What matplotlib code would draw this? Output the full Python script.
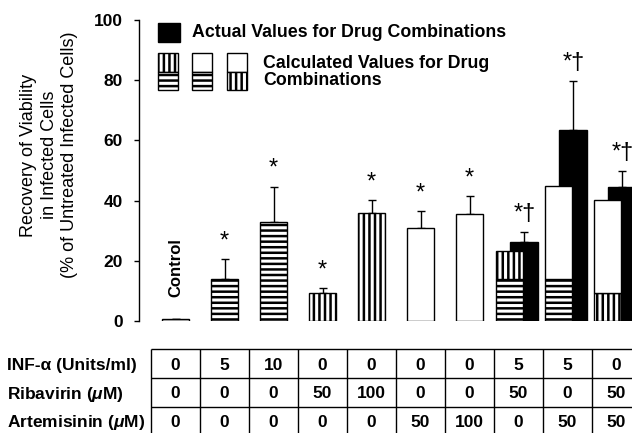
import matplotlib
matplotlib.use('Agg')
import matplotlib.pyplot as plt
from matplotlib.patches import Rectangle
import matplotlib.transforms as mtransforms

# ---------------- data ----------------
single_drug = ['Control', 'INF', 'INF', 'RIB', 'RIB', 'ART', 'ART']
single_values = [0.5, 13.9, 33.0, 9.4, 35.8, 30.8, 35.5]
single_errors = [0.3, 6.6, 11.6, 1.6, 4.4, 5.7, 6.0]
single_marks = ['', '*', '*', '*', '*', '*', '*']

combo_bottom_drug = ['INF', 'INF', 'RIB']
combo_bottom = [13.9, 14.0, 9.4]
combo_top_drug = ['RIB', 'ART', 'ART']
combo_top = [9.4, 30.8, 30.8]
actual_values = [26.2, 63.5, 44.6]
actual_errors = [3.5, 16.2, 5.3]
combo_marks = ['*\u2020', '*\u2020', '*\u2020']

row_labels = ['INF-\u03b1 (Units/ml)', 'Ribavirin ($\\mu$M)', 'Artemisinin ($\\mu$M)']
inf_doses = [0, 5, 10, 0, 0, 0, 0, 5, 5, 0]
rib_doses = [0, 0, 0, 50, 100, 0, 0, 50, 0, 50]
art_doses = [0, 0, 0, 0, 0, 50, 100, 0, 50, 50]
yticks = [0, 20, 40, 60, 80, 100]

legend_actual = 'Actual Values for Drug Combinations'
legend_calc = ['Calculated Values for Drug', 'Combinations']
ylabel = 'Recovery of Viability\nin Infected Cells\n(% of Untreated Infected Cells)'

# ---------------- style ----------------
plt.rcParams['font.family'] = ['Liberation Sans', 'DejaVu Sans']
plt.rcParams['hatch.linewidth'] = 1.8
plt.rcParams['hatch.color'] = 'black'
plt.rcParams['mathtext.fontset'] = 'custom'
plt.rcParams['mathtext.rm'] = 'Liberation Sans:bold'
plt.rcParams['mathtext.it'] = 'Liberation Sans:italic:bold'
plt.rcParams['mathtext.bf'] = 'Liberation Sans:bold'

hatch_for = {'Control': None, 'INF': '---', 'RIB': '|||', 'ART': None}

W, H = 632, 433
fig = plt.figure(figsize=(W / 100, H / 100), dpi=100)


def fx(px):
    return px / W


def fy(py):
    return 1 - py / H


ax = fig.add_axes([fx(139), fy(321), (632 - 139) / W, (321 - 20) / H])
ax.set_xlim(-0.745, 9.316)
ax.set_ylim(0, 100)
for s in ['top', 'right', 'bottom']:
    ax.spines[s].set_visible(False)
ax.spines['left'].set_linewidth(1.0)
ax.set_xticks([])
ax.set_yticks(yticks)
ax.tick_params(axis='y', direction='out', length=3.6, width=1.0, pad=8, labelsize=12.5)
for lab in ax.get_yticklabels():
    lab.set_fontweight('bold')
ax.patch.set_visible(False)

bar_w = 0.55
lw = 1.0
star_fs = 17
star_off = 8.5
txt_fs = 12.8

# single-agent bars
for i, (v, d) in enumerate(zip(single_values, single_drug)):
    ax.bar(i, v, width=bar_w, color='white', edgecolor='black', linewidth=lw,
           hatch=hatch_for[d], zorder=3)
xs = list(range(len(single_values)))
ax.errorbar(xs, single_values, yerr=[[0] * len(xs), single_errors], fmt='none',
            ecolor='black', elinewidth=1.0, capsize=2.9, capthick=1.0, zorder=2)
for i, (v, e, m) in enumerate(zip(single_values, single_errors, single_marks)):
    if m:
        ax.annotate(m, xy=(i, v + e), xytext=(0, star_off), textcoords='offset points',
                    ha='center', va='baseline', fontsize=star_fs)
ax.text(0, 17.9, 'Control', rotation=90, ha='center', va='center',
        fontweight='bold', fontsize=12)

# combination bars
n0 = len(single_values)
cx = [n0 + k for k in range(len(actual_values))]
x_act = [c + 0.12 for c in cx]
x_calc = [c - 0.18 for c in cx]
ax.bar(x_act, actual_values, width=0.57, color='black', edgecolor='black', linewidth=lw, zorder=3)
ax.errorbar(x_act, actual_values, yerr=[[0] * len(cx), actual_errors], fmt='none',
            ecolor='black', elinewidth=1.0, capsize=2.9, capthick=1.0, zorder=2)
for k in range(len(cx)):
    ax.bar(x_calc[k], combo_bottom[k], width=bar_w, color='white', edgecolor='black',
           linewidth=lw, hatch=hatch_for[combo_bottom_drug[k]], zorder=4)
    ax.bar(x_calc[k], combo_top[k], bottom=combo_bottom[k], width=bar_w, color='white',
           edgecolor='black', linewidth=lw, hatch=hatch_for[combo_top_drug[k]], zorder=4)
    ax.annotate(combo_marks[k], xy=(x_act[k], actual_values[k] + actual_errors[k]),
                xytext=(0, star_off), textcoords='offset points',
                ha='center', va='baseline', fontsize=star_fs)

# legend
def box(x0, y0, x1, y1, face='white', hatch=None):
    fig.add_artist(Rectangle((fx(x0), fy(y1)), (x1 - x0) / W, (y1 - y0) / H,
                             transform=fig.transFigure, facecolor=face,
                             edgecolor='black', linewidth=lw, hatch=hatch))

box(158.3, 22.7, 180, 41.7, face='black')
box(158.3, 52.5, 178.3, 72, hatch=hatch_for['RIB'])
box(158.3, 72, 178.3, 90, hatch=hatch_for['INF'])
box(191.7, 52.5, 211.7, 72)
box(191.7, 72, 211.7, 90, hatch=hatch_for['INF'])
box(226.7, 52.5, 246.7, 72)
box(226.7, 72, 246.7, 90, hatch=hatch_for['RIB'])
fig.text(fx(192), fy(36.7), legend_actual, va='baseline', ha='left',
         fontweight='bold', fontsize=txt_fs)
fig.text(fx(263), fy(68.3), legend_calc[0], va='baseline', ha='left',
         fontweight='bold', fontsize=txt_fs)
fig.text(fx(263), fy(85), legend_calc[1], va='baseline', ha='left',
         fontweight='bold', fontsize=txt_fs)

# y label
fig.text(fx(49), fy(155), ylabel, rotation=90, ha='center', va='center',
         multialignment='center', fontsize=13, linespacing=1.25)

# table
blend = mtransforms.blended_transform_factory(ax.transData, fig.transFigure)
ncol = len(inf_doses)
for yline in [349.3, 378.3, 407.3, 436.3]:
    ax.plot([-0.5, ncol - 0.5], [fy(yline), fy(yline)], color='black', lw=1.0,
            transform=blend, clip_on=False, solid_capstyle='butt')
for k in range(ncol + 1):
    ax.plot([k - 0.5, k - 0.5], [fy(349.3), fy(440)], color='black', lw=1.0,
            transform=blend, clip_on=False, solid_capstyle='butt')
rows = [inf_doses, rib_doses, art_doses]
baselines = [370, 398.5, 427]
for r, (lab, vals, b) in enumerate(zip(row_labels, rows, baselines)):
    fig.text(fx(7), fy(b), lab, ha='left', va='baseline', fontweight='bold', fontsize=12.5)
    for i, v in enumerate(vals):
        ax.text(i, fy(b), str(v), transform=blend, ha='center', va='baseline',
                fontweight='bold', fontsize=12.5, clip_on=False)

fig.savefig('out.png', dpi=100)
